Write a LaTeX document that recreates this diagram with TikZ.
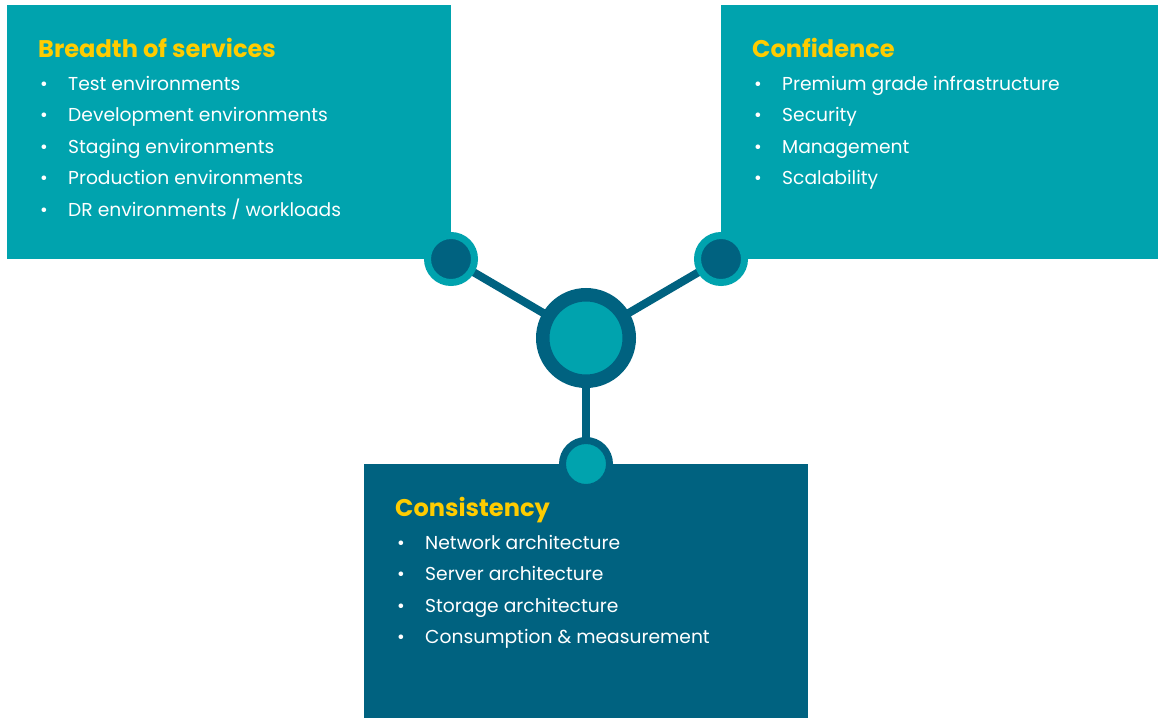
\documentclass[tikz,border=0pt]{standalone}
\usepackage{fontspec}
\setmainfont{Poppins}
\definecolor{teal}{HTML}{00A3AE}
\definecolor{navy}{HTML}{006280}
\definecolor{gold}{HTML}{FFCC00}
\begin{document}
\begin{tikzpicture}[x=1pt,y=-1pt,
  box/.style={draw=none,rectangle,inner sep=0pt,anchor=north west},
  title/.style={anchor=base west,inner sep=0pt,text=gold,font=\fontsize{24.1}{28}\selectfont\bfseries},
  item/.style={anchor=base west,inner sep=0pt,text=white,font=\fontsize{18.7}{22}\selectfont},
  bul/.style={anchor=base west,inner sep=0pt,text=white,font=\fontsize{18.7}{22}\selectfont},
  link/.style={draw=navy,line width=8pt},
  knob/.style={circle,inner sep=0pt,minimum size=47pt,line width=7pt}]
\useasboundingbox (0,0) rectangle (1158,718);
\fill[white] (0,0) rectangle (1158,718);
% boxes
\node[box,fill=teal,minimum width=444pt,minimum height=254pt] (bl) at (7,5) {};
\node[box,fill=teal,minimum width=437pt,minimum height=254pt] (br) at (721,5) {};
\node[box,fill=navy,minimum width=444pt,minimum height=254pt] (bb) at (364,464) {};
% titles
\node[title] (tl) at (38,57) {Breadth of services};
\node[title] (tr) at (752,57) {Confidence};
\node[title] (tb) at (395,516) {Consistency};
% items
\foreach \t [count=\i] in {Test environments,Development environments,Staging environments,Production environments,DR environments / workloads}{
  \node[bul] (lb\i) at (40,90+31.6*\i-31.6) {•};
  \node[item] (li\i) at (68,90+31.6*\i-31.6) {\t};
}
\foreach \t [count=\i] in {Premium grade infrastructure,Security,Management,Scalability}{
  \node[bul] (rb\i) at (754,90+31.6*\i-31.6) {•};
  \node[item] (ri\i) at (782,90+31.6*\i-31.6) {\t};
}
\foreach \t [count=\i] in {Network architecture,Server architecture,Storage architecture,Consumption \& measurement}{
  \node[bul] (bb\i) at (397,549+31.6*\i-31.6) {•};
  \node[item] (bi\i) at (425,549+31.6*\i-31.6) {\t};
}
% hub
\coordinate (c0) at (586,338);
\coordinate (cl) at (451,259);
\coordinate (cr) at (721,259);
\coordinate (cb) at (586,464);
\draw[link] (c0) -- (cl);
\draw[link] (c0) -- (cr);
\draw[link] (c0) -- (cb);
\node[knob,fill=navy,draw=teal] (kl) at (cl) {};
\node[knob,fill=navy,draw=teal] (kr) at (cr) {};
\node[knob,fill=teal,draw=navy] (kb) at (cb) {};
\node[circle,inner sep=0pt,minimum size=86.5pt,line width=13.5pt,fill=teal,draw=navy] (hub) at (c0) {};
\end{tikzpicture}
\end{document}
